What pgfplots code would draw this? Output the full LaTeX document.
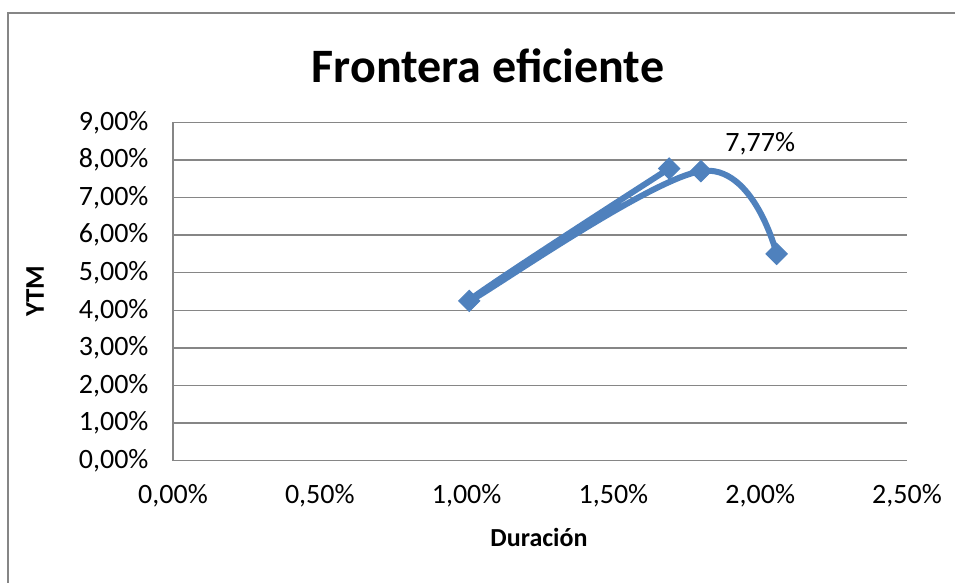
\documentclass[border=0pt]{standalone}
\usepackage{fontspec}
\setmainfont{Carlito}
\usepackage{pgfplots}
\pgfplotsset{compat=1.18}
\definecolor{exblue}{HTML}{4F81BD}
\definecolor{exgrid}{HTML}{868686}
\begin{document}
\begin{tikzpicture}[x=1pt,y=1pt]
\path[use as bounding box] (0,0) rectangle (955,583);
\draw[exgrid, line width=2pt] (8,0) -- (8,570) -- (955,570);
\begin{axis}[
  at={(173pt,122.3pt)}, anchor=south west,
  scale only axis, width=734pt, height=338.4pt,
  xmin=0, xmax=2.5, ymin=0, ymax=9,
  xtick={0,0.5,...,2.5}, ytick={0,1,...,9},
  axis line style={exgrid, line width=1.5pt},
  axis x line*=bottom, axis y line*=left,
  major tick length=0pt,
  ymajorgrids, grid style={exgrid, line width=1.5pt},
  /pgf/number format/.cd, use comma, fixed, fixed zerofill, precision=2, assume math mode=true,
  /pgfplots/.cd,
  xticklabel={\pgfmathprintnumber{\tick}\%},
  yticklabel={\pgfmathprintnumber{\tick}\%},
  tick label style={font=\fontsize{28}{32}\selectfont},
  xticklabel style={yshift=-20pt},
  yticklabel style={xshift=-21pt},
  clip=false,
]
\addplot[exblue, line width=6pt, smooth, tension=0.62,
  mark=square*, mark size=7.5pt, mark options={rotate=45, line width=1pt, fill=exblue}]
  coordinates {(1.690,7.77) (1.009,4.25) (1.798,7.70) (2.056,5.50)};
\node[font=\fontsize{28}{32}\selectfont] at (axis cs:2.0,8.43) {7,77\%};
\end{axis}
\node[font=\fontsize{48}{56}\bfseries\selectfont] at (488,517) {Frontera eficiente};
\node[font=\fontsize{26}{30}\bfseries\selectfont] at (539,46) {Duración};
\node[font=\fontsize{27}{30}\bfseries\selectfont, rotate=90] at (35,292) {YTM};
\end{tikzpicture}
\end{document}
